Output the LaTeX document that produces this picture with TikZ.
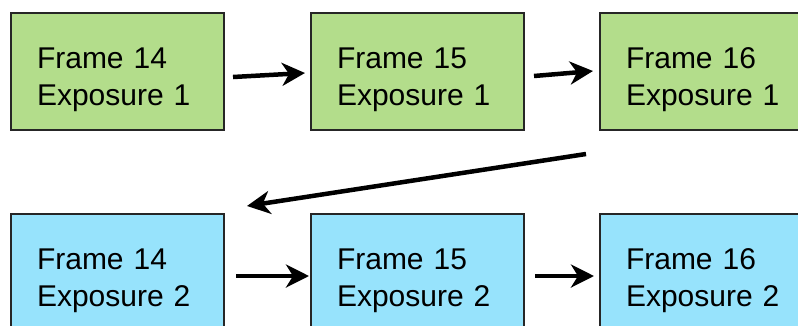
\documentclass[tikz,border=0pt]{standalone}
\usepackage{fontspec}
\setmainfont{Liberation Sans}
\usetikzlibrary{arrows.meta,positioning}
\definecolor{expgreen}{RGB}{179,221,139}
\definecolor{expblue}{RGB}{151,227,252}

\begin{document}
\begin{tikzpicture}[x=1pt,y=1pt,font=\fontsize{30}{36.5}\selectfont,
  frm/.style={draw=black!85,line width=2pt,fill=#1,minimum width=213pt,minimum height=117pt,
    text width=161pt,inner xsep=26pt,inner ysep=0pt,align=left,
    execute at begin node={\rule{0pt}{37pt}}},
  arr/.style={-{Stealth[length=23pt,width=23pt,inset=7pt]},line width=4.5pt}]
\useasboundingbox (0,0) rectangle (798,-325);
\clip (0,0) rectangle (798,-325);
% exposure 1
\node[frm=expgreen,anchor=north west] (f14a) at (10,-12) {Frame 14\\Exposure 1};
\node[frm=expgreen,right=85pt of f14a] (f15a) {Frame 15\\Exposure 1};
\node[frm=expgreen,right=74pt of f15a] (f16a) {Frame 16\\Exposure 1};
% exposure 2
\node[frm=expblue,below=82pt of f14a] (f14b) {Frame 14\\Exposure 2};
\node[frm=expblue,right=85pt of f14b] (f15b) {Frame 15\\Exposure 2};
\node[frm=expblue,right=74pt of f15b] (f16b) {Frame 16\\Exposure 2};
\draw[arr] ([xshift=8pt,yshift=-5.5pt]f14a.east) -- ([xshift=-5pt,yshift=-1.5pt]f15a.west);
\draw[arr] ([xshift=9pt,yshift=-4.5pt]f15a.east) -- ([xshift=-6pt,yshift=0.5pt]f16a.west);
\draw[arr] ([xshift=-13pt,yshift=-23pt]f16a.south west) -- ([xshift=22pt,yshift=7pt]f14b.north east);
\draw[arr] ([xshift=11pt,yshift=-3.5pt]f14b.east) -- ([xshift=-1pt,yshift=-3.5pt]f15b.west);
\draw[arr] ([xshift=10pt,yshift=-3.5pt]f15b.east) -- ([xshift=-5pt,yshift=-3.5pt]f16b.west);
\end{tikzpicture}
\end{document}
